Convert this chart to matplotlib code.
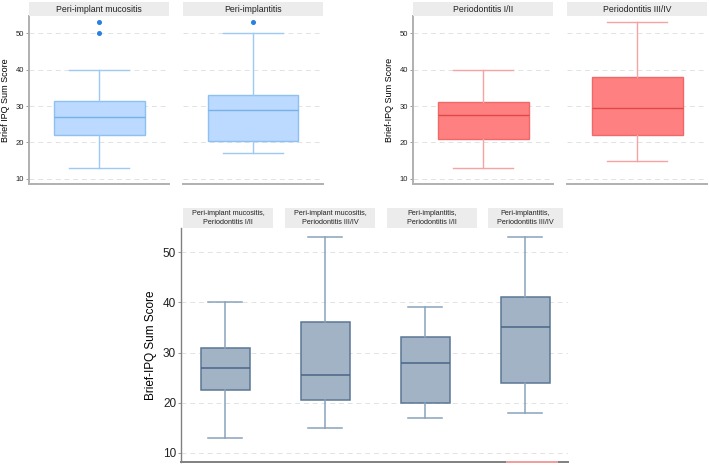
import matplotlib
matplotlib.use("Agg")
import matplotlib.pyplot as plt

plt.rcParams["font.family"] = ["Liberation Sans", "DejaVu Sans"]

# box stats: whisker low, Q1, median, Q3, whisker high
implant_groups = ["Peri-implant mucositis", "Peri-implantitis"]
implant_low = [13, 17]
implant_q1 = [22, 20.5]
implant_med = [27, 29]
implant_q3 = [31.5, 33]
implant_high = [40, 50]
implant_fliers = [[50, 53], [53]]

perio_groups = ["Periodontitis I/II", "Periodontitis III/IV"]
perio_low = [13, 15]
perio_q1 = [21, 22]
perio_med = [27.5, 29.5]
perio_q3 = [31, 38]
perio_high = [40, 53]
perio_fliers = [[], []]

combo_groups = ["Peri-implant mucositis,\nPeriodontitis I/II",
                "Peri-implant mucositis,\nPeriodontitis III/IV",
                "Peri-implantitis,\nPeriodontitis I/II",
                "Peri-implantitis,\nPeriodontitis III/IV"]
combo_low = [13, 15, 17, 18]
combo_q1 = [22.5, 20.5, 20, 24]
combo_med = [27, 25.5, 28, 35]
combo_q3 = [31, 36, 33, 41]
combo_high = [40, 53, 39, 53]

yticks = [10, 20, 30, 40, 50]

W, H = 709, 468
fig = plt.figure(figsize=(W / 100, H / 100), dpi=100)


def px_axes(x0, y0, x1, y1):
    return fig.add_axes([x0 / W, 1 - y1 / H, (x1 - x0) / W, (y1 - y0) / H])


def style(ax, left_spine, fs, spine_col="#b0b0b0"):
    for s in ["top", "right"]:
        ax.spines[s].set_visible(False)
    for s in ["bottom", "left"]:
        ax.spines[s].set_color(spine_col)
        ax.spines[s].set_linewidth(1.4)
    ax.spines["left"].set_visible(left_spine)
    ax.set_xticks([])
    ax.set_yticks(yticks)
    if left_spine:
        ax.tick_params(axis="y", length=2, width=0.6, colors="#888888",
                       labelcolor="#222222", labelsize=fs, pad=1.5)
    else:
        ax.tick_params(axis="y", length=0, labelleft=False)
    ax.grid(axis="y", color="#e2e2e2", linestyle=(0, (5, 4)), linewidth=0.7)
    ax.set_axisbelow(True)


def draw_box(ax, pos, low, q1, med, q3, high, fliers, width, capw,
             fill, edge, whisk, medc, flc, lw):
    stats = [dict(whislo=low, q1=q1, med=med, q3=q3, whishi=high, fliers=fliers)]
    ax.bxp(stats, positions=[pos], widths=width, patch_artist=True,
           capwidths=capw, manage_ticks=False,
           boxprops=dict(facecolor=fill, edgecolor=edge, linewidth=lw),
           whiskerprops=dict(color=whisk, linewidth=lw),
           capprops=dict(color=whisk, linewidth=lw),
           medianprops=dict(color=medc, linewidth=lw),
           flierprops=dict(marker="o", markersize=2.6, markerfacecolor=flc,
                           markeredgecolor=flc))


def strip(x0, y0, x1, y1, text, fs):
    sax = px_axes(x0, y0, x1, y1)
    sax.set_facecolor("#ececec")
    sax.set_xticks([])
    sax.set_yticks([])
    for s in sax.spines.values():
        s.set_visible(False)
    sax.text(0.5, 0.5, text, ha="center", va="center", fontsize=fs,
             color="#222222", linespacing=1.5)


def top_panel(xs, groups, low, q1, med, q3, high, fliers, ylabel, colors):
    for i, (x0, x1) in enumerate(xs):
        ax = px_axes(x0, 16, x1, 184)
        style(ax, i == 0, 5.5)
        draw_box(ax, 1, low[i], q1[i], med[i], q3[i], high[i], fliers[i],
                 0.65, 0.43, *colors, 1.0)
        ax.set_xlim(0.5, 1.5)
        ax.set_ylim(8.6, 54.7)
        if i == 0:
            ax.set_ylabel(ylabel, fontsize=6.5, labelpad=4)
        strip(x0, 2, x1, 16, groups[i], 6.3)


top_panel([(29, 169), (183, 323)], implant_groups, implant_low, implant_q1,
          implant_med, implant_q3, implant_high, implant_fliers,
          "Brief IPQ Sum Score",
          ("#bcdaff", "#8ec0f0", "#9ccaf5", "#78b0ea", "#2a80e0"))
top_panel([(413, 553), (567, 707)], perio_groups, perio_low, perio_q1,
          perio_med, perio_q3, perio_high, perio_fliers,
          "Brief-IPQ Sum Score",
          ("#ff8080", "#ee6a6a", "#f5a3a3", "#e04848", "#e04848"))

# bottom combined panel
bx0, bx1 = 181, 568
xmin, xmax = 0.56, 4.43
ax = px_axes(bx0, 228, bx1, 462)
style(ax, True, 8.5, spine_col="#808080")
ax.spines["left"].set_linewidth(1.0)
for i in range(len(combo_groups)):
    draw_box(ax, i + 1, combo_low[i], combo_q1[i], combo_med[i], combo_q3[i],
             combo_high[i], [], 0.49, 0.34,
             "#a3b3c6", "#5a7694", "#8aa2ba", "#4a6686", "#4a6686", 1.1)
ax.set_xticks([])
ax.set_xlim(xmin, xmax)
ax.set_ylim(8.2, 54.8)
ax.set_ylabel("Brief-IPQ Sum Score", fontsize=8.5, labelpad=4)
ax.plot([3.82, 4.32], [8.2, 8.2], color="#f2a0a0", linewidth=1.4,
        clip_on=False, zorder=5)

# strips above each group
strip_shift = [0.03, 0.05, 0.07, 0.005]
strip_half = [0.45, 0.45, 0.45, 0.375]
for i, g in enumerate(combo_groups):
    c = i + 1 + strip_shift[i]
    p0 = bx0 + (c - strip_half[i] - xmin) / (xmax - xmin) * (bx1 - bx0)
    p1 = bx0 + (c + strip_half[i] - xmin) / (xmax - xmin) * (bx1 - bx0)
    strip(p0, 208, p1, 228, g, 5.2)

fig.savefig("out.png", dpi=100)
